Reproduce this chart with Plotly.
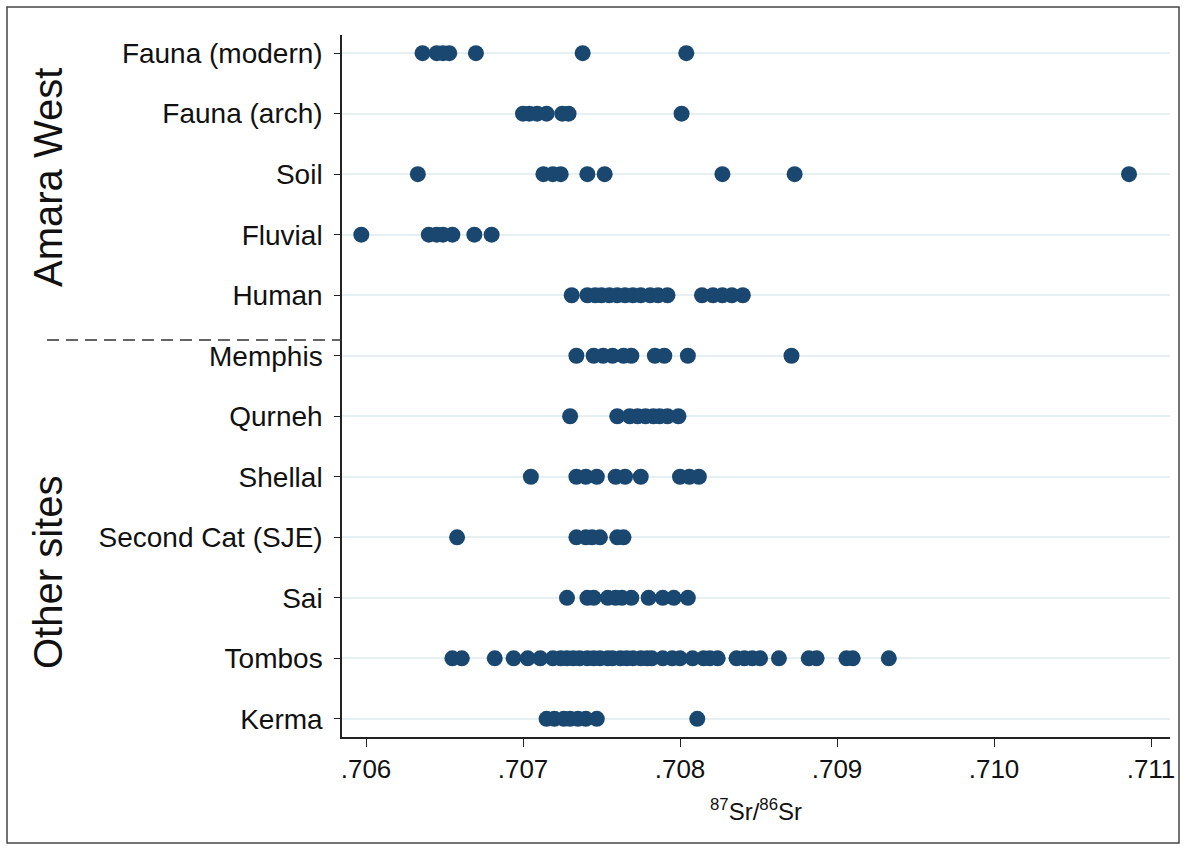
import plotly.graph_objects as go

# ---- data (87Sr/86Sr values per group) ----
categories = ["Fauna (modern)", "Fauna (arch)", "Soil", "Fluvial", "Human",
              "Memphis", "Qurneh", "Shellal", "Second Cat (SJE)", "Sai",
              "Tombos", "Kerma"]

fauna_modern = [0.70636, 0.70645, 0.70649, 0.70653, 0.70670, 0.70738, 0.70804]
fauna_arch = [0.70700, 0.70704, 0.70709, 0.70715, 0.70725, 0.70729, 0.70801]
soil = [0.70633, 0.70713, 0.70719, 0.70724, 0.70741, 0.70752, 0.70827, 0.70873, 0.71086]
fluvial = [0.70597, 0.70640, 0.70645, 0.70649, 0.70655, 0.70669, 0.70680]
human = [0.70731, 0.70741, 0.70746, 0.70750, 0.70755, 0.70760, 0.70765, 0.70770,
         0.70775, 0.70781, 0.70786, 0.70792, 0.70814, 0.70821, 0.70827, 0.70833, 0.70840]
memphis = [0.70734, 0.70745, 0.70751, 0.70757, 0.70764, 0.70769, 0.70784, 0.70790,
           0.70805, 0.70871]
qurneh = [0.70730, 0.70760, 0.70768, 0.70773, 0.70778, 0.70783, 0.70787, 0.70792, 0.70799]
shellal = [0.70705, 0.70734, 0.70740, 0.70747, 0.70759, 0.70765, 0.70775, 0.70800,
           0.70806, 0.70812]
second_cat = [0.70658, 0.70734, 0.70740, 0.70744, 0.70749, 0.70760, 0.70764]
sai = [0.70728, 0.70741, 0.70745, 0.70754, 0.70759, 0.70763, 0.70769, 0.70780,
       0.70789, 0.70796, 0.70805]
tombos = [0.70655, 0.70661, 0.70682, 0.70694, 0.70703, 0.70711,
          0.70719, 0.70724, 0.70728, 0.70732, 0.70736, 0.70741, 0.70745, 0.70749,
          0.70754, 0.70757, 0.70762, 0.70766, 0.70770, 0.70775, 0.70779, 0.70782,
          0.70789, 0.70795, 0.70800, 0.70808, 0.70815, 0.70819, 0.70824,
          0.70836, 0.70841, 0.70846, 0.70851, 0.70863, 0.70882, 0.70887,
          0.70906, 0.70910, 0.70933]
kerma = [0.70715, 0.70720, 0.70726, 0.70730, 0.70735, 0.70740, 0.70747, 0.70811]

group_values = [fauna_modern, fauna_arch, soil, fluvial, human, memphis, qurneh,
                shellal, second_cat, sai, tombos, kerma]

x_ticks = [0.706, 0.707, 0.708, 0.709, 0.710, 0.711]
x_ticktext = [".706", ".707", ".708", ".709", ".710", ".711"]

# ---- figure ----
xs, ys = [], []
for cat, vals in zip(categories, group_values):
    xs.extend(vals)
    ys.extend([cat] * len(vals))

NAVY = "#1a476f"
FONT = "Liberation Sans, Arial, sans-serif"

fig = go.Figure(go.Scatter(
    x=xs, y=ys, mode="markers",
    marker=dict(color=NAVY, size=16, line=dict(width=0)),
    showlegend=False, hoverinfo="x+y"))

W, H = 1186, 850
L, R, T, B = 342, 16, 35, 113
pw, ph = W - L - R, H - T - B

def px_to_paper(px, py):
    return (px - L) / pw, (H - B - py) / ph

fig.update_layout(
    width=W, height=H,
    margin=dict(l=L, r=R, t=T, b=B, pad=0),
    paper_bgcolor="white", plot_bgcolor="white",
    font=dict(family=FONT, color="#111111"),
)

fig.update_xaxes(
    range=[0.705847, 0.711121],
    tickvals=x_ticks, ticktext=x_ticktext,
    tickfont=dict(family=FONT, size=26, color="#111111"),
    ticks="outside", ticklen=8, tickwidth=1.3, tickcolor="#222222",
    showline=True, linecolor="#222222", linewidth=1.5,
    showgrid=False, zeroline=False,
    title=dict(text="<sup>87</sup>Sr/<sup>86</sup>Sr",
               font=dict(family=FONT, size=24, color="#111111"),
               standoff=20),
)

fig.update_yaxes(
    type="category", categoryorder="array", categoryarray=categories,
    range=[11.3, -0.3],
    tickfont=dict(family=FONT, size=28, color="#111111"),
    ticks="outside", ticklen=6, tickwidth=1.3, tickcolor="#222222",
    ticklabelstandoff=6,
    showline=True, linecolor="#222222", linewidth=1.5,
    showgrid=True, gridcolor="#e6eff2", gridwidth=1.5,
    zeroline=False,
)

ax, ay = px_to_paper(48, 178)
ox, oy = px_to_paper(48, 573)
fig.add_annotation(text="Amara West", x=ax, y=ay, xref="paper", yref="paper",
                   textangle=-90, showarrow=False, xanchor="center", yanchor="middle",
                   font=dict(family=FONT, size=40, color="#111111"))
fig.add_annotation(text="Other sites", x=ox, y=oy, xref="paper", yref="paper",
                   textangle=-90, showarrow=False, xanchor="center", yanchor="middle",
                   font=dict(family=FONT, size=40, color="#111111"))

# dashed separator between the two groups
d0x, dy = px_to_paper(47, 340)
d1x, _ = px_to_paper(342, 340)
fig.add_shape(type="line", xref="paper", yref="paper", x0=d0x, x1=d1x, y0=dy, y1=dy,
              line=dict(color="#333333", width=1.5, dash="12px,7px"))

# outer frame
f0x, f0y = px_to_paper(7, 843)
f1x, f1y = px_to_paper(1179, 7)
fig.add_shape(type="rect", xref="paper", yref="paper", x0=f0x, x1=f1x, y0=f0y, y1=f1y,
              line=dict(color="#444444", width=1.5), fillcolor="rgba(0,0,0,0)", layer="below")

fig.write_html("out.html",
               config={"displayModeBar": False},
               post_script="document.body.style.margin='0';document.body.style.overflow='hidden';")
